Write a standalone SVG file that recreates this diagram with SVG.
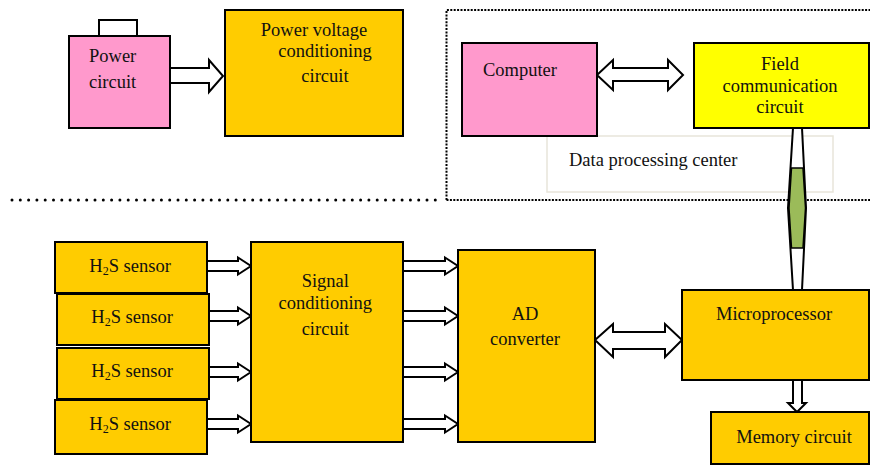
<svg xmlns="http://www.w3.org/2000/svg" width="870" height="466" viewBox="0 0 870 466">
<style>
.box{stroke:#000;stroke-width:2}
.or{fill:#FFCC00}
.pk{fill:#FF99CC}
.ye{fill:#FFFF00}
.arr{fill:#fff;stroke:#000;stroke-width:2;stroke-linejoin:miter}
text{font-family:"Liberation Serif","Times New Roman",serif;font-size:18.5px;fill:#111}
.c{text-anchor:middle}
.sub{font-size:12px}
</style>
<rect width="870" height="466" fill="#fff"/>
<g id="dotted-frame" fill="none" stroke="#000">
<line x1="12" y1="200" x2="443" y2="200" stroke-width="3" stroke-linecap="round" stroke-dasharray="0 8.3"/>
<path d="M446.5,200 V10 H870 M446.5,200 H870" stroke-width="2" stroke-dasharray="2 1.4"/>
</g>
<g id="connectors">
<polygon class="arr" points="170,68 209,68 209,60 223,76 209,92 209,83 170,83"/>
<polygon class="arr" points="597,75 613,60 613,68 668,68 668,60 683,75 668,90 668,81 613,81 613,90"/>
<polygon class="arr" points="595,340 613,324 613,332 665,332 665,324 682,340 665,357 665,349 613,349 613,357"/>
<polygon class="arr" points="793,380 802,380 802,403 806,403 797,412 788,403 793,403"/>
<polygon class="arr" points="207,261 238,261 238,257.5 251,266 238,274.5 238,271 207,271"/>
<polygon class="arr" points="209,311 238,311 238,307.5 251,316 238,324.5 238,321 209,321"/>
<polygon class="arr" points="209,367 238,367 238,363.5 251,372 238,380.5 238,377 209,377"/>
<polygon class="arr" points="207,419 238,419 238,415.5 251,424 238,432.5 238,429 207,429"/>
<polygon class="arr" points="403,261 445,261 445,257.5 458,266 445,274.5 445,271 403,271"/>
<polygon class="arr" points="403,311 445,311 445,307.5 458,316 445,324.5 445,321 403,321"/>
<polygon class="arr" points="403,367 445,367 445,363.5 458,372 445,380.5 445,377 403,377"/>
<polygon class="arr" points="403,419 445,419 445,415.5 458,424 445,432.5 445,429 403,429"/>
</g>
<g id="data-processing-center">
<rect x="547" y="136" width="286" height="56" fill="#fff" stroke="#E8E5DA" stroke-width="1.5"/>
<text x="569" y="165.5">Data processing center</text>
</g>
<g id="link-field-micro">
<polygon points="793,128 802,128 806,208 802,290 793,290 788,208" fill="#fff" stroke="#000" stroke-width="2"/>
<polygon points="791.5,168 803,168 805.5,208 803,248 791.5,248 789,208" fill="#9BBB59" stroke="#000" stroke-width="1.5"/>
</g>
<g id="power-circuit">
<rect class="box" x="99" y="20" width="38" height="16" fill="#fff"/>
<rect class="box pk" x="69" y="36" width="101" height="92"/>
<text x="89" y="62">Power</text>
<text x="89" y="88">circuit</text>
</g>
<g id="power-voltage-conditioning">
<rect class="box or" x="225" y="10" width="178" height="126"/>
<text class="c" x="314" y="35.5">Power voltage</text>
<text class="c" x="325" y="57">conditioning</text>
<text class="c" x="325" y="82">circuit</text>
</g>
<g id="computer">
<rect class="box pk" x="462" y="43" width="135" height="93"/>
<text class="c" x="520" y="76">Computer</text>
</g>
<g id="field-communication">
<rect class="box ye" x="694" y="43" width="175" height="85"/>
<text class="c" x="780" y="70">Field</text>
<text class="c" x="780" y="91.7">communication</text>
<text class="c" x="780" y="113.3">circuit</text>
</g>
<g id="sensor1">
<rect class="box or" x="55" y="242" width="152" height="51"/>
<text x="89.3" y="271.7">H<tspan class="sub" dy="3">2</tspan><tspan dy="-3">S sensor</tspan></text>
</g>
<g id="sensor2">
<rect class="box or" x="57" y="294" width="152" height="51"/>
<text x="91.3" y="323.3">H<tspan class="sub" dy="3">2</tspan><tspan dy="-3">S sensor</tspan></text>
</g>
<g id="sensor3">
<rect class="box or" x="57" y="348" width="152" height="51"/>
<text x="91.3" y="377.3">H<tspan class="sub" dy="3">2</tspan><tspan dy="-3">S sensor</tspan></text>
</g>
<g id="sensor4">
<rect class="box or" x="55" y="400" width="152" height="54"/>
<text x="89.3" y="430">H<tspan class="sub" dy="3">2</tspan><tspan dy="-3">S sensor</tspan></text>
</g>
<g id="signal-conditioning">
<rect class="box or" x="251" y="242" width="152" height="200"/>
<text class="c" x="325.3" y="287.3">Signal</text>
<text class="c" x="325.3" y="309.3">conditioning</text>
<text class="c" x="325.3" y="335">circuit</text>
</g>
<g id="ad-converter">
<rect class="box or" x="458" y="250" width="137" height="192"/>
<text class="c" x="525" y="320">AD</text>
<text class="c" x="525" y="345">converter</text>
</g>
<g id="microprocessor">
<rect class="box or" x="682" y="290" width="187" height="90"/>
<text class="c" x="774" y="320">Microprocessor</text>
</g>
<g id="memory-circuit">
<rect class="box or" x="711" y="412" width="158" height="52"/>
<text class="c" x="794" y="443">Memory circuit</text>
</g>
</svg>
